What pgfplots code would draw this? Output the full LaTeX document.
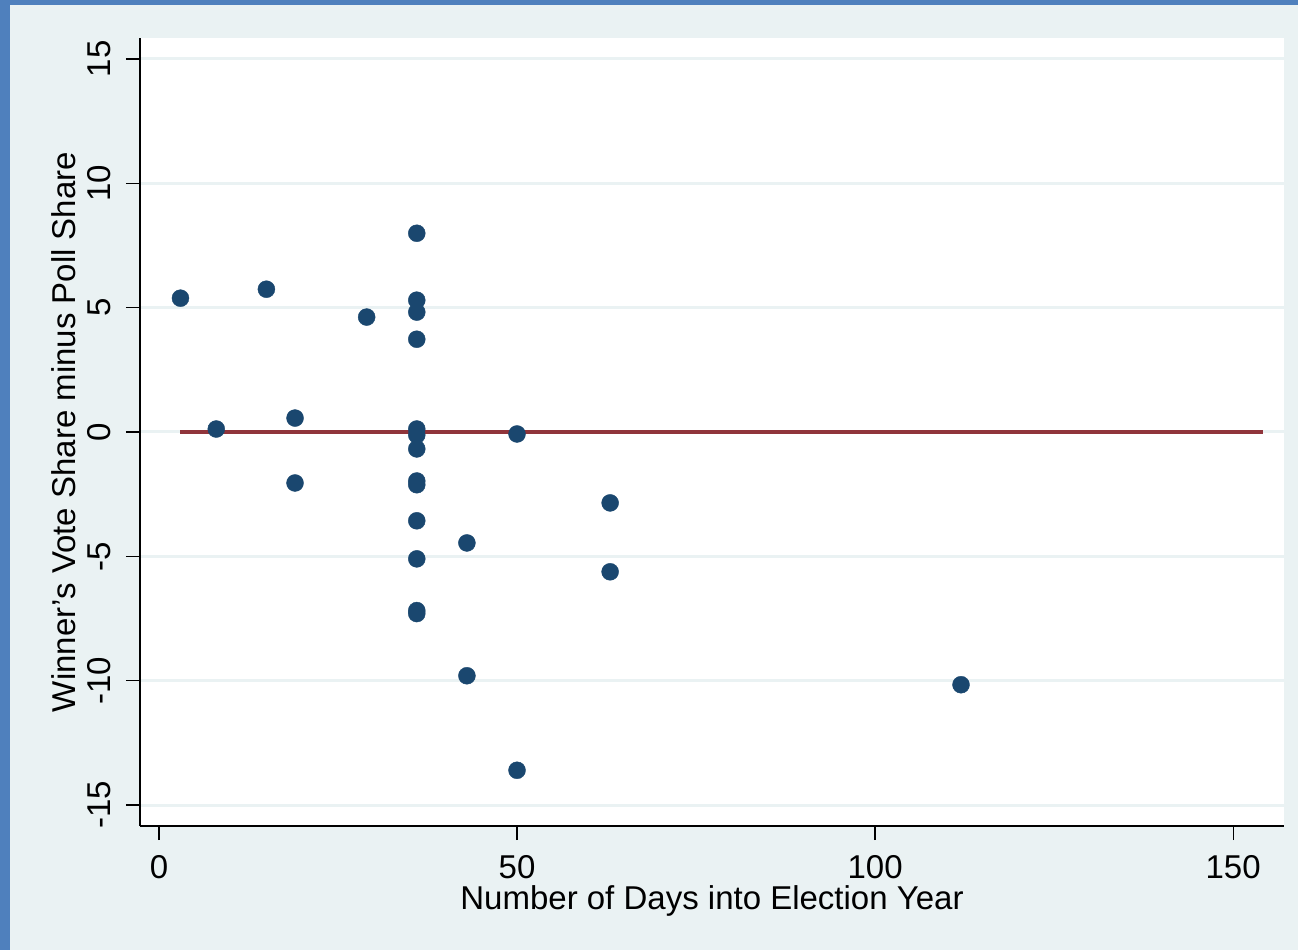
\documentclass[border=0pt]{standalone}
\usepackage{fontspec}
\setmainfont{Liberation Sans}
\usepackage{pgfplots}
\pgfplotsset{compat=1.18}
\definecolor{bgc}{HTML}{EAF2F3}
\definecolor{bluec}{HTML}{4F80BD}
\definecolor{navyc}{HTML}{1A476F}
\definecolor{maroonc}{HTML}{90353B}
\begin{document}
\begin{tikzpicture}[x=1pt,y=1pt]
\fill[bgc] (0,0) rectangle (1298,950);
\fill[bluec] (0,0) rectangle (10,950);
\fill[bluec] (0,945) rectangle (1298,950);
\begin{axis}[
  at={(140pt,124pt)}, anchor=south west,
  scale only axis, width=1144pt, height=788pt,
  xmin=-2.65, xmax=157.1, ymin=-15.84, ymax=15.84,
  axis background/.style={fill=white},
  axis lines*=left,
  axis line style={-, black, line width=1.5pt},
  xtick={0,50,100,150}, ytick={-15,-10,-5,0,5,10,15},
  tick align=outside, major tick length=14pt,
  tick style={black, line width=1.3pt},
  ymajorgrids, grid style={bgc, line width=3pt},
  /pgf/number format/assume math mode=true,
  ticklabel style={font=\fontsize{33}{40}\selectfont},
  xticklabel shift=12pt, yticklabel shift=12pt,
  yticklabel style={rotate=90, anchor=south},
  xlabel={Number of Days into Election Year},
  ylabel={Winner's Vote Share minus Poll Share},
  label style={font=\fontsize{33}{40}\selectfont},
  xlabel style={yshift=0pt},
  ylabel style={yshift=4pt},
  clip=false,
]
\addplot[only marks, mark=*, mark size=8.5pt, mark options={fill=navyc, draw=navyc}] coordinates {
(3,5.38) (8,0.12) (15,5.74) (19,0.56) (19,-2.05) (29,4.62)
(36,7.99) (36,5.30) (36,4.82) (36,3.73) (36,0.12) (36,-0.12) (36,-0.68)
(36,-1.97) (36,-2.12) (36,-3.57) (36,-5.10) (36,-7.18) (36,-7.30)
(43,-4.46) (43,-9.80) (50,-0.08) (50,-13.6) (63,-2.85) (63,-5.62) (112,-10.16)
};
\addplot[maroonc, line width=4pt] coordinates {(3,0) (154.2,0)};
\end{axis}
\end{tikzpicture}
\end{document}
